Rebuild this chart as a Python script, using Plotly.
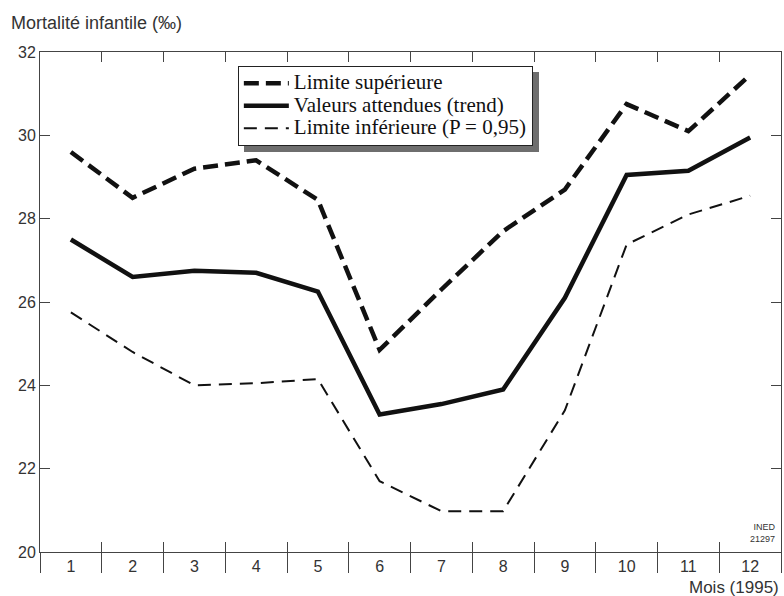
import plotly.graph_objects as go

# Monthly infant mortality (per thousand), 1995
months = list(range(1, 13))
month_labels = [str(m) for m in months]
upper = [29.6, 28.5, 29.2, 29.4, 28.45, 24.85, 26.3, 27.7, 28.7, 30.75, 30.1, 31.45]
trend = [27.5, 26.6, 26.75, 26.7, 26.25, 23.3, 23.55, 23.9, 26.1, 29.05, 29.15, 29.95]
lower = [25.75, 24.8, 24.0, 24.05, 24.15, 21.7, 20.98, 20.98, 23.4, 27.38, 28.1, 28.55]
bounds = [m - 0.5 for m in months] + [months[-1] + 0.5]
y_ticks = [20, 22, 24, 26, 28, 30, 32]
series_names = ["Limite supérieure", "Valeurs attendues (trend)", "Limite inférieure (P = 0,95)"]

AX = "#444444"
SANS = "Liberation Sans, Arial, sans-serif"
SERIF = "Liberation Serif, Times New Roman, serif"


def legend_label(text):
    # larger glyphs in the legend while keeping its rows compact
    return '<span style="font-size:21px">' + text + "</span>"


fig = go.Figure()
fig.add_trace(go.Scatter(x=months, y=upper, mode="lines", name=legend_label(series_names[0]),
                         line=dict(color="#111111", width=4.5, dash="15px,7px")))
fig.add_trace(go.Scatter(x=months, y=trend, mode="lines", name=legend_label(series_names[1]),
                         line=dict(color="#111111", width=4.5)))
fig.add_trace(go.Scatter(x=months, y=lower, mode="lines", name=legend_label(series_names[2]),
                         line=dict(color="#111111", width=2, dash="13px,8px")))
# helper traces that carry the label axis and the long outer ticks
for ax in ("x2", "x3"):
    fig.add_trace(go.Scatter(x=months, y=trend, xaxis=ax, mode="lines", showlegend=False,
                             hoverinfo="skip", line=dict(width=0, color="rgba(0,0,0,0)")))

xr = [bounds[0], bounds[-1]]
fig.update_layout(
    width=784, height=596,
    margin=dict(l=40, r=3, t=52, b=44),
    paper_bgcolor="white", plot_bgcolor="white",
    showlegend=True,
    xaxis=dict(range=xr, tickmode="array", tickvals=bounds, showticklabels=False,
               ticks="inside", ticklen=10, tickcolor=AX, tickwidth=1,
               showline=True, linecolor=AX, linewidth=1, mirror="ticks",
               showgrid=False, zeroline=False),
    xaxis2=dict(range=xr, overlaying="x", anchor="y", side="bottom",
                tickmode="array", tickvals=months, ticktext=month_labels,
                ticks="", showline=False, showgrid=False, zeroline=False,
                ticklabelstandoff=3,
                tickfont=dict(family=SANS, size=16, color="#333333")),
    xaxis3=dict(range=xr, overlaying="x", anchor="y", side="bottom",
                tickmode="array", tickvals=bounds, showticklabels=False,
                ticks="outside", ticklen=20, tickcolor=AX, tickwidth=1,
                showline=False, showgrid=False, zeroline=False),
    yaxis=dict(range=[20, 32], tickmode="array", tickvals=y_ticks,
               ticks="inside", ticklen=10, tickcolor=AX, tickwidth=1,
               showline=True, linecolor=AX, linewidth=1, mirror="ticks",
               showgrid=False, zeroline=False,
               tickfont=dict(family=SANS, size=16, color="#333333")),
    legend=dict(x=0.267, y=0.972, xanchor="left", yanchor="top",
                bgcolor="white", bordercolor="#222222", borderwidth=1,
                font=dict(family=SERIF, size=15, color="#111111"),
                itemwidth=45, tracegroupgap=0),
    annotations=[
        dict(text="Mortalité infantile (‰)", xref="paper", yref="paper", x=0, y=1,
             xanchor="left", yanchor="middle", xshift=-31, yshift=29, showarrow=False,
             font=dict(family=SANS, size=18, color="#333333")),
        dict(text="Mois (1995)", xref="paper", yref="paper", x=1, y=0,
             xanchor="right", yanchor="middle", xshift=0, yshift=-35, showarrow=False,
             font=dict(family=SANS, size=17, color="#333333")),
        dict(text="INED<br>21297", xref="paper", yref="paper", x=1, y=0,
             xanchor="right", yanchor="bottom", xshift=-3, yshift=6, showarrow=False,
             align="right", font=dict(family=SANS, size=9, color="#333333")),
    ],
    shapes=[
        # drop shadow behind the legend box
        dict(type="rect", xref="paper", yref="paper",
             x0=(244 - 40) / 741, x1=(539 - 40) / 741,
             y0=(552 - 152) / 500, y1=(552 - 72) / 500,
             fillcolor="#6e6e6e", line=dict(width=0), layer="above"),
    ],
)

fig.write_html("out.html")
